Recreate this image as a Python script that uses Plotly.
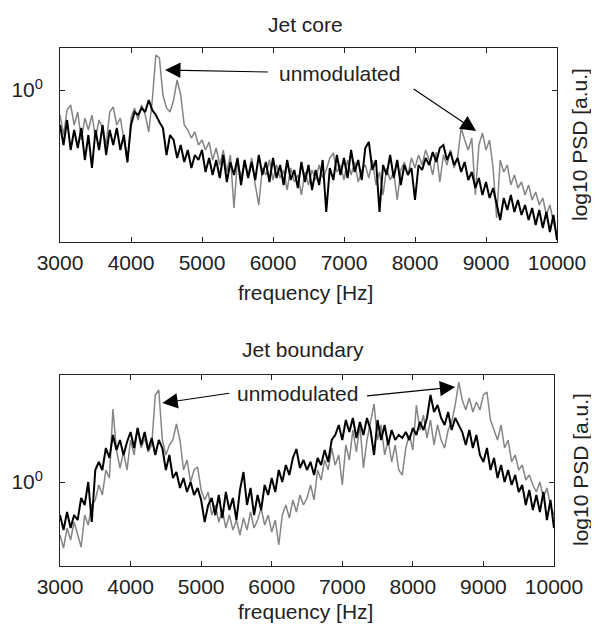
import numpy as np
import plotly.graph_objects as go

# frequency grid (Hz)
freq = list(range(3000, 10001, 50))

# log10 PSD values
core_modulated = [
    -0.175, -0.275, -0.15, -0.3, -0.2, -0.29, -0.19, -0.35, -0.225, -0.39, -0.2, -0.3, -0.175, -0.325, -0.2, -0.275, -0.19, -0.3, -0.225, -0.36,
    -0.175, -0.11, -0.125, -0.09, -0.11, -0.05, -0.10, -0.125, -0.16, -0.19, -0.325, -0.225, -0.25, -0.34, -0.275, -0.36, -0.3, -0.39, -0.325, -0.35,
    -0.3, -0.41, -0.34, -0.425, -0.35, -0.44, -0.325, -0.46, -0.36, -0.425, -0.34, -0.475, -0.35, -0.44, -0.36, -0.45, -0.325, -0.425, -0.36, -0.46,
    -0.34, -0.44, -0.375, -0.475, -0.35, -0.45, -0.4, -0.49, -0.36, -0.46, -0.375, -0.5, -0.4, -0.475, -0.35, -0.61, -0.39, -0.45, -0.325, -0.425,
    -0.34, -0.44, -0.3, -0.41, -0.35, -0.45, -0.29, -0.26, -0.4, -0.35, -0.61, -0.375, -0.425, -0.325, -0.44, -0.35, -0.475, -0.375, -0.425, -0.39,
    -0.55, -0.375, -0.4, -0.34, -0.375, -0.31, -0.36, -0.29, -0.275, -0.35, -0.31, -0.375, -0.34, -0.41, -0.36, -0.45, -0.41, -0.49, -0.44, -0.525,
    -0.46, -0.54, -0.49, -0.575, -0.65, -0.54, -0.6, -0.525, -0.61, -0.55, -0.625, -0.575, -0.65, -0.59, -0.675, -0.6, -0.69, -0.61, -0.71, -0.625,
    -0.75,
]
core_unmodulated = [
    -0.125, -0.225, -0.1, -0.075, -0.175, -0.11, -0.25, -0.14, -0.2, -0.125, -0.24, -0.15, -0.19, -0.275, -0.11, -0.085, -0.175, -0.14, -0.25, -0.365,
    -0.14, -0.09, -0.15, -0.075, -0.125, -0.21, -0.05, 0.175, 0.16, -0.025, -0.09, -0.11, -0.05, 0.05, -0.025, -0.175, -0.2, -0.24, -0.21, -0.275,
    -0.25, -0.3, -0.26, -0.35, -0.29, -0.375, -0.3, -0.41, -0.325, -0.59, -0.35, -0.44, -0.36, -0.425, -0.34, -0.475, -0.575, -0.39, -0.425, -0.35,
    -0.45, -0.375, -0.44, -0.4, -0.5, -0.39, -0.46, -0.425, -0.525, -0.41, -0.475, -0.4, -0.45, -0.375, -0.44, -0.4, -0.34, -0.315, -0.41, -0.375,
    -0.45, -0.35, -0.425, -0.36, -0.46, -0.4, -0.375, -0.44, -0.35, -0.475, -0.41, -0.525, -0.39, -0.45, -0.41, -0.55, -0.4, -0.36, -0.425, -0.34,
    -0.39, -0.325, -0.375, -0.3, -0.35, -0.425, -0.31, -0.46, -0.325, -0.375, -0.3, -0.39, -0.34, -0.19, -0.25, -0.3, -0.24, -0.525, -0.275, -0.215,
    -0.3, -0.25, -0.39, -0.64, -0.35, -0.41, -0.375, -0.475, -0.425, -0.49, -0.46, -0.525, -0.475, -0.55, -0.51, -0.575, -0.54, -0.625, -0.575, -0.66,
    -0.725,
]
boundary_modulated = [
    -0.165, -0.24, -0.15, -0.23, -0.165, -0.19, -0.08, -0.115, 0.0, -0.2, 0.06, 0.1, 0.06, 0.17, 0.12, 0.235, 0.16, 0.21, 0.135, 0.2,
    0.25, 0.17, 0.27, 0.185, 0.25, 0.16, 0.22, 0.135, 0.21, 0.17, 0.06, 0.135, 0.02, 0.05, -0.03, 0.02, -0.05, 0.0, -0.065, -0.03,
    -0.09, -0.2, -0.115, -0.08, -0.165, -0.065, -0.18, -0.05, -0.14, -0.08, -0.19, -0.04, 0.05, -0.115, -0.03, -0.165, -0.065, -0.14, -0.015, -0.065,
    0.02, -0.05, 0.06, 0.0, 0.085, 0.035, 0.12, 0.165, 0.07, 0.11, 0.06, 0.1, 0.035, 0.12, 0.085, 0.16, 0.1, 0.21, 0.235, 0.285,
    0.21, 0.31, 0.25, 0.32, 0.22, 0.3, 0.235, 0.32, 0.26, 0.135, 0.31, 0.21, 0.285, 0.185, 0.26, 0.21, 0.235, 0.22, 0.25, 0.21,
    0.27, 0.235, 0.3, 0.26, 0.32, 0.435, 0.35, 0.385, 0.32, 0.285, 0.35, 0.26, 0.32, 0.285, 0.25, 0.185, 0.26, 0.17, 0.235, 0.135,
    0.1, 0.17, 0.06, 0.12, 0.02, 0.085, 0.0, 0.06, -0.015, 0.035, -0.05, -0.015, -0.115, -0.04, -0.14, -0.065, -0.15, -0.05, -0.19, -0.09,
    -0.23,
]
boundary_unmodulated = [
    -0.265, -0.33, -0.23, -0.29, -0.2, -0.265, -0.325, -0.165, -0.215, -0.115, -0.09, -0.015, -0.065, 0.06, 0.02, 0.365, 0.16, 0.07, 0.15, 0.06,
    0.21, 0.135, 0.27, 0.17, 0.22, 0.15, 0.185, 0.435, 0.46, 0.21, 0.135, 0.185, 0.21, 0.29, 0.21, 0.06, 0.11, 0.0, 0.06, 0.075,
    -0.04, -0.09, -0.05, -0.165, -0.115, -0.2, -0.14, -0.23, -0.165, -0.24, -0.19, -0.265, -0.18, -0.24, -0.15, -0.23, -0.19, -0.13, -0.215, -0.165,
    -0.25, -0.19, -0.315, -0.165, -0.115, -0.18, -0.09, -0.15, -0.065, -0.115, -0.08, -0.015, -0.09, 0.06, 0.01, 0.11, 0.06, 0.17, 0.085, 0.135,
    -0.015, 0.185, 0.11, 0.26, 0.15, 0.285, 0.07, 0.21, 0.31, 0.39, 0.21, 0.285, 0.135, 0.21, 0.1, 0.185, 0.06, 0.035, 0.17, 0.235,
    0.16, 0.385, 0.26, 0.335, 0.22, 0.31, 0.185, 0.285, 0.21, 0.17, 0.26, 0.3, 0.385, 0.5, 0.41, 0.36, 0.42, 0.35, 0.4, 0.36,
    0.435, 0.45, 0.31, 0.26, 0.21, 0.285, 0.17, 0.21, 0.1, 0.135, 0.06, 0.085, 0.01, 0.035, -0.015, -0.05, 0.0, -0.08, -0.03, -0.115,
    -0.165,
]

x_ticks = [3000, 4000, 5000, 6000, 7000, 8000, 9000, 10000]
x_tick_labels = ["3000", "4000", "5000", "6000", "7000", "8000", "9000", "10000"]
y_tick_label = "10<sup>0</sup>\u00a0\u00a0"
titles = ["Jet core", "Jet boundary"]

# page has an 8px body margin; figure is sized to fit inside it
OFF = 8
W, H = 599 - OFF, 628 - OFF
ML, MR, MT, MB = 60 - OFF, W - (557 - OFF), 48 - OFF, H - (566 - OFF)
PW, PH = W - ML - MR, H - MT - MB


def px(x):
    return (x - OFF - ML) / PW


def py(y):
    return (H - MB - (y - OFF)) / PH


FONT = "Liberation Sans, Arial, sans-serif"
FS = 21
GRAY = "#858585"

fig = go.Figure()
for yvals, col, wid, xa, ya in [
    (core_unmodulated, GRAY, 1.5, "x", "y"),
    (core_modulated, "#000000", 2.0, "x", "y"),
    (boundary_unmodulated, GRAY, 1.5, "x2", "y2"),
    (boundary_modulated, "#000000", 2.0, "x2", "y2"),
]:
    fig.add_trace(go.Scatter(
        x=freq, y=[10 ** v for v in yvals], mode="lines",
        line=dict(color=col, width=wid), xaxis=xa, yaxis=ya,
        showlegend=False, hoverinfo="skip"))

axis_common = dict(
    showline=True, linecolor="#222222", linewidth=1.3, mirror="ticks",
    ticks="inside", ticklen=5, tickcolor="#222222", tickwidth=1.3,
    showgrid=False, zeroline=False, automargin=False,
    tickfont=dict(family=FONT, size=FS, color="#222222"),
)

fig.update_layout(
    width=W, height=H,
    margin=dict(l=ML, r=MR, t=MT, b=MB, autoexpand=False),
    paper_bgcolor="white", plot_bgcolor="white",
    showlegend=False,
    xaxis=dict(domain=[0, 1], anchor="y", range=[3000, 10000],
               tickvals=x_ticks, ticktext=x_tick_labels, ticklabelstandoff=2, **axis_common),
    yaxis=dict(domain=[py(242), 1], anchor="x", type="log", range=[-0.76, 0.21],
               tickvals=[1], ticktext=[y_tick_label], **axis_common),
    xaxis2=dict(domain=[0, px(554)], anchor="y2", range=[3000, 10000],
                tickvals=x_ticks, ticktext=x_tick_labels, ticklabelstandoff=2, **axis_common),
    yaxis2=dict(domain=[0, py(375)], anchor="x2", type="log", range=[-0.42, 0.535],
                tickvals=[1], ticktext=[y_tick_label], **axis_common),
)

ann = []
txt = dict(family=FONT, size=FS, color="#222222")
# titles
ann.append(dict(text=titles[0], x=px(305), y=py(25), xref="paper", yref="paper",
                showarrow=False, font=txt, xanchor="center", yanchor="middle"))
ann.append(dict(text=titles[1], x=px(303), y=py(349), xref="paper", yref="paper",
                showarrow=False, font=txt, xanchor="center", yanchor="middle"))
# x titles
for yy in (292, 611):
    ann.append(dict(text="frequency [Hz]", x=px(305), y=py(yy), xref="paper", yref="paper",
                    showarrow=False, font=txt, xanchor="center", yanchor="middle"))
# y titles (right side)
for yy in (145, 470):
    ann.append(dict(text="log10 PSD [a.u.]", x=px(580), y=py(yy), xref="paper", yref="paper",
                    showarrow=False, font=txt, textangle=-90, xanchor="center", yanchor="middle"))

# "unmodulated" labels and arrows (data coordinates, log10 for y)
ann.append(dict(text="unmodulated", x=6930, y=0.085, xref="x", yref="y",
                showarrow=False, font=txt, xanchor="center", yanchor="middle"))
arrow = dict(showarrow=True, arrowhead=2, arrowsize=2.8, arrowwidth=1.1,
             arrowcolor="#000000", text=" ", font=dict(size=1))
ann.append(dict(x=4480, y=0.10, ax=5950, ay=0.09, xref="x", yref="y",
                axref="x", ayref="y", **arrow))
ann.append(dict(x=8860, y=-0.205, ax=7960, ay=0.01, xref="x", yref="y",
                axref="x", ayref="y", **arrow))

ann.append(dict(text="unmodulated", x=6370, y=0.445, xref="x2", yref="y2",
                showarrow=False, font=txt, xanchor="center", yanchor="middle"))
ann.append(dict(x=4450, y=0.395, ax=5420, ay=0.445, xref="x2", yref="y2",
                axref="x2", ayref="y2", **arrow))
ann.append(dict(x=8600, y=0.475, ax=7330, ay=0.43, xref="x2", yref="y2",
                axref="x2", ayref="y2", **arrow))

fig.update_layout(annotations=ann)
fig.write_html("out.html")
